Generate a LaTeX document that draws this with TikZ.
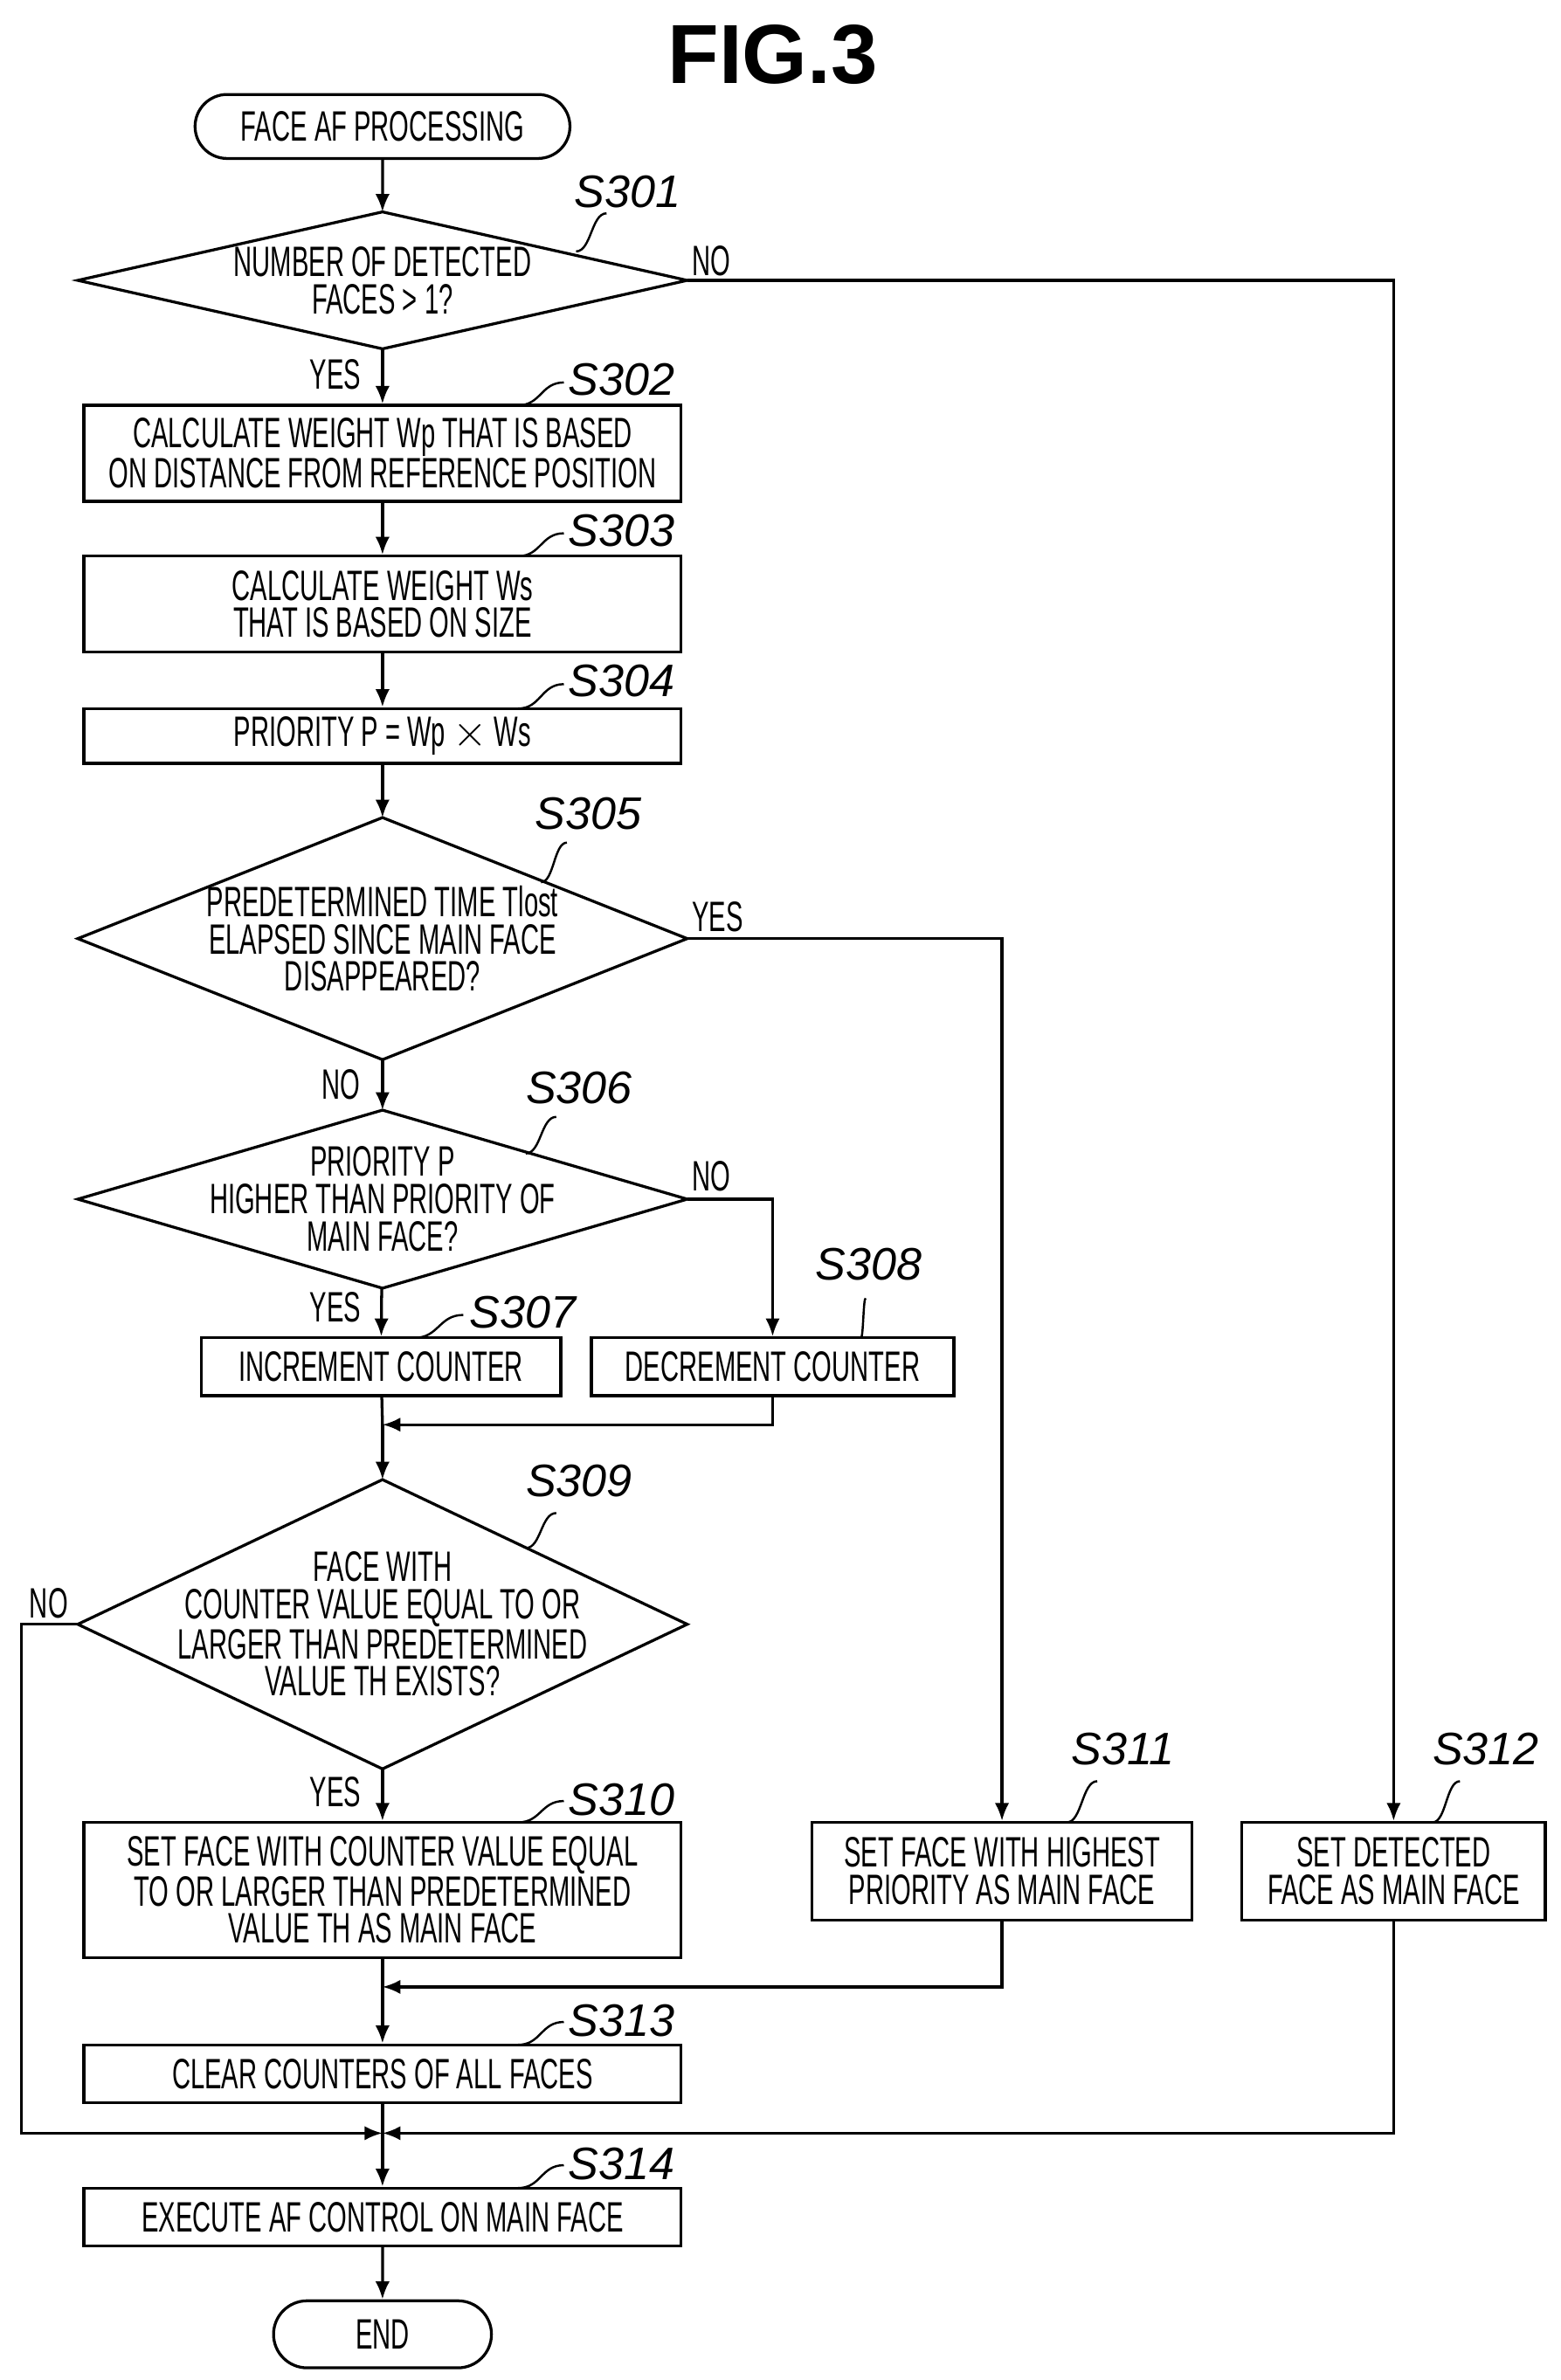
\documentclass[tikz,border=0pt]{standalone}
\usepackage{fontspec}
\setmainfont{Liberation Sans}
\newfontfamily\condfont[FakeStretch=0.6]{Liberation Sans}
\usetikzlibrary{shapes.geometric,shapes.misc,arrows.meta}

\begin{document}
\begin{tikzpicture}[x=0.03cm, y=-0.03cm, line width=1.6pt, >={Latex[length=10pt,width=8pt]},
        stepbox/.style={draw, rectangle, inner sep=0pt, align=center,
          font=\condfont\fontsize{23.8}{21}\selectfont},
        decision/.style={rectangle, inner sep=0pt, align=center,
          minimum width=398*0.03cm, font=\condfont\fontsize{23.8}{21}\selectfont},
        terminal/.style={draw, rounded rectangle, inner sep=0pt,
          font=\condfont\fontsize{23.8}{21}\selectfont},
        branch/.style={font=\condfont\fontsize{23.8}{21}\selectfont},
        steplabel/.style={font=\itshape\fontsize{25.5}{28}\selectfont},
        leader/.style={line width=1.2pt}]
\useasboundingbox (0,0) rectangle (1024,1562);
\node[font=\bfseries\fontsize{47}{50}\selectfont] (title) at (507,36) {FIG.3};
% Start and end
\node[terminal, minimum width=246*0.03cm, minimum height=42*0.03cm] (start) at (251,83) {FACE AF PROCESSING};
\node[terminal, minimum width=143*0.03cm, minimum height=44*0.03cm] (end) at (251,1532) {END};
% Decisions
\node[decision, minimum height=88*0.03cm] (s301) at (251,184) {NUMBER OF DETECTED\\FACES > 1?};
\node[decision, minimum height=157*0.03cm] (s305) at (251,616) {PREDETERMINED TIME Tlost\\ELAPSED SINCE MAIN FACE\\DISAPPEARED?};
\node[decision, minimum height=115*0.03cm] (s306) at (251,787) {PRIORITY P\\HIGHER THAN PRIORITY OF\\MAIN FACE?};
\node[decision, minimum height=188*0.03cm] (s309) at (251,1066) {FACE WITH\\COUNTER VALUE EQUAL TO OR\\LARGER THAN PREDETERMINED\\VALUE TH EXISTS?};
\foreach \d in {s301,s305,s306,s309}
  \draw (\d.north) -- (\d.east) -- (\d.south) -- (\d.west) -- cycle;
% Process boxes
\node[stepbox, minimum width=392*0.03cm, minimum height=63*0.03cm] (s302) at (251,297.5) {CALCULATE WEIGHT Wp THAT IS BASED\\ON DISTANCE FROM REFERENCE POSITION};
\node[stepbox, minimum width=392*0.03cm, minimum height=63*0.03cm] (s303) at (251,396.5) {CALCULATE WEIGHT Ws\\THAT IS BASED ON SIZE};
\node[stepbox, minimum width=392*0.03cm, minimum height=36*0.03cm] (s304) at (251,483) {PRIORITY P = Wp $\times$ Ws};
\node[stepbox, minimum width=236*0.03cm, minimum height=38*0.03cm] (s307) at (250,897) {INCREMENT COUNTER};
\node[stepbox, minimum width=238*0.03cm, minimum height=38*0.03cm] (s308) at (507,897) {DECREMENT COUNTER};
\node[stepbox, minimum width=392*0.03cm, minimum height=89*0.03cm] (s310) at (251,1240.5) {SET FACE WITH COUNTER VALUE EQUAL\\TO OR LARGER THAN PREDETERMINED\\VALUE TH AS MAIN FACE};
\node[stepbox, minimum width=249*0.03cm, minimum height=64*0.03cm] (s311) at (657.5,1228) {SET FACE WITH HIGHEST\\PRIORITY AS MAIN FACE};
\node[stepbox, minimum width=199*0.03cm, minimum height=64*0.03cm] (s312) at (914.5,1228) {SET DETECTED\\FACE AS MAIN FACE};
\node[stepbox, minimum width=392*0.03cm, minimum height=38*0.03cm] (s313) at (251,1361) {CLEAR COUNTERS OF ALL FACES};
\node[stepbox, minimum width=392*0.03cm, minimum height=38*0.03cm] (s314) at (251,1455) {EXECUTE AF CONTROL ON MAIN FACE};
% Junction points
\coordinate (j1) at (251,935);
\coordinate (j2) at (251,1304);
\coordinate (j3) at (251,1400);
% Main flow
\draw[->] (start) -- (s301);
\draw[->] (s301) -- (s302);
\draw[->] (s302) -- (s303);
\draw[->] (s303) -- (s304);
\draw[->] (s304) -- (s305);
\draw[->] (s305) -- (s306);
\draw[->] (s306) -- (s307);
\draw (s307) -- (j1);
\draw[->] (j1) -- (s309);
\draw[->] (s309) -- (s310);
\draw (s310) -- (j2);
\draw[->] (j2) -- (s313);
\draw (s313) -- (j3);
\draw[->] (j3) -- (s314);
\draw[->] (s314) -- (end);
% Side branches
\draw[->] (s301.east) -| (s312.north);
\draw[->] (s305.east) -| (s311.north);
\draw[->] (s306.east) -| (s308.north);
\draw[->] (s308.south) |- (j1);
\draw[->] (s311.south) |- (j2);
\draw[->] (s312.south) |- (j3);
\draw[->] (s309.west) -- (14,1066) |- (j3);
% Branch labels
\node[branch] (n301) at (467,171) {NO};
\node[branch] (y301) at (220,246) {YES};
\node[branch] (y305) at (471,602) {YES};
\node[branch] (n305) at (224,712) {NO};
\node[branch] (n306) at (467,772) {NO};
\node[branch] (y306) at (220,858) {YES};
\node[branch] (n309) at (32,1052) {NO};
\node[branch] (y309) at (220,1176) {YES};
% Step labels
\foreach \nm/\px/\py/\ax/\ay/\bx/\by in {
    301/412/126/378/165/398/140, 302/408/249/340/266/370/251, 303/408/348/340/365/370/350,
    304/408/447/340/465/370/449, 305/386/534/355/579/372/553, 306/380/714/345/757/365/733,
    307/343/861/272/878/304/863, 308/570/830/565/878/568/852, 309/380/972/345/1016/365/993,
    310/408/1181/340/1196/370/1182, 311/737/1148/700/1196/720/1169, 312/975/1148/940/1196/958/1169,
    313/408/1326/340/1342/370/1327, 314/408/1420/340/1436/370/1421} {
  \node[steplabel] (l\nm) at (\px,\py) {S\nm};
  \draw[leader] (\ax,\ay) .. controls ({(\ax+\bx)/2},\ay) and ({(\ax+\bx)/2},\by) .. (\bx,\by);
}
\end{tikzpicture}
\end{document}
